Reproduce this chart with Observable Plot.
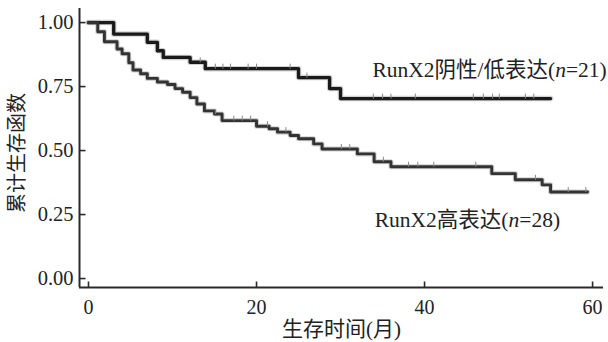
<!DOCTYPE html>
<html>
<head>
<meta charset="utf-8">
<script src="https://cdn.jsdelivr.net/npm/d3@7"></script>
<script src="https://cdn.jsdelivr.net/npm/@observablehq/plot@0.6"></script>
<style>
  html, body { margin: 0; padding: 0; background: #fff; }
  #chart svg { display: block; }
</style>
</head>
<body>
<div id="chart"></div>
<script>
// ---- data ----
const seriesNames = ["RunX2阴性/低表达(n=21)", "RunX2高表达(n=28)"];

// RunX2 negative / low expression: step times (months) and survival
const lowExprTime = [0, 3, 7, 8.2, 8.9, 12.1, 13.9, 25, 28.7, 30, 55];
const lowExprSurv = [1, 0.955, 0.923, 0.89, 0.864, 0.845, 0.82, 0.785, 0.742, 0.703, 0.703];
const lowExprCensor = [13.3, 15.1, 16, 16.9, 19, 20, 24, 26, 33.9, 35, 36, 38.9, 45.8, 47, 48.1, 48.9, 52, 53];

// RunX2 high expression
const highExprTime = [0, 1.1, 1.9, 3.4, 4.0, 4.8, 5.3, 6.2, 7.0, 8.2, 9.4, 10.3, 11.2, 12.1, 12.9, 13.8, 15.0, 15.9, 20.0, 21.5, 22.5, 24.0, 25.0, 26.8, 27.8, 32.0, 34.0, 36.0, 48.0, 50.8, 54.0, 55.0, 59.4];
const highExprSurv = [1, 0.964, 0.925, 0.897, 0.878, 0.843, 0.815, 0.8, 0.782, 0.768, 0.758, 0.742, 0.728, 0.707, 0.682, 0.655, 0.643, 0.617, 0.595, 0.585, 0.572, 0.559, 0.546, 0.526, 0.506, 0.487, 0.456, 0.437, 0.41, 0.386, 0.366, 0.338, 0.338];
const highExprCensor = [15.1, 17.3, 18.3, 19.3, 21.3, 23.5, 30.1, 31.1, 35.1, 38.1, 39.2, 41.1, 46.1, 53.2, 57.1, 59.2];

const xTicks = [0, 20, 40, 60];
const yTicks = [0, 0.25, 0.5, 0.75, 1];
const xLabel = "生存时间(月)";
const yLabel = "累计生存函数";

// ---- build tables ----
const toRows = (ts, ss, name) => ts.map((t, i) => ({t, s: ss[i], name}));
const lowRows = toRows(lowExprTime, lowExprSurv, seriesNames[0]);
const highRows = toRows(highExprTime, highExprSurv, seriesNames[1]);
const censorRows = (cs, ts, ss) => cs.map(c => ({t: c, s: ss[Math.max(0, d3.bisectRight(ts, c) - 1)]}));
const lowCens = censorRows(lowExprCensor, lowExprTime, lowExprSurv);
const highCens = censorRows(highExprCensor, highExprTime, highExprSurv);

const xMin = -1.07, xMax = 61.3, yMin = -0.035, yMax = 1.055;
const font = "'Liberation Serif', 'Times New Roman', 'Noto Sans CJK SC', serif";
const axisColor = "#2a2a2a";

const tickUp = {draw(ctx) { ctx.moveTo(0, 0); ctx.lineTo(0, -6); }};
const tickRight = {draw(ctx) { ctx.moveTo(0, 0); ctx.lineTo(6, 0); }};
const censorTick = {draw(ctx) { ctx.moveTo(0, 1); ctx.lineTo(0, -4); }};

const plot = Plot.plot({
  width: 608,
  height: 342,
  marginLeft: 79,
  marginRight: 5,
  marginTop: 8,
  marginBottom: 55,
  style: {fontFamily: font, background: "#fff", color: "#222"},
  x: {domain: [xMin, xMax]},
  y: {domain: [yMin, yMax]},
  marks: [
    // axis lines
    Plot.ruleX([xMin], {y1: yMin, y2: yMax, stroke: axisColor, strokeWidth: 2}),
    Plot.ruleY([yMin], {x1: xMin, x2: xMax, stroke: axisColor, strokeWidth: 2}),
    // inward ticks
    Plot.dot(xTicks, {x: d => d, y: () => yMin, symbol: tickUp, stroke: axisColor, strokeWidth: 1.6, r: 6, fill: "none"}),
    Plot.dot(yTicks, {x: () => xMin, y: d => d, symbol: tickRight, stroke: axisColor, strokeWidth: 1.6, r: 6, fill: "none"}),
    // tick labels
    Plot.axisX({ticks: xTicks, tickSize: 0, tickPadding: 12, fontSize: 20, label: null, tickFormat: d3.format("d")}),
    Plot.axisY({ticks: yTicks, tickSize: 0, tickPadding: 6, fontSize: 20.5, label: null, tickFormat: d3.format(".2f")}),
    // axis titles
    Plot.text([xLabel], {frameAnchor: "bottom", dy: 42, textAnchor: "middle", lineAnchor: "middle", fontSize: 21, fill: "#222"}),
    Plot.text([yLabel], {frameAnchor: "left", dx: -62, dy: 5, rotate: -90, textAnchor: "middle", lineAnchor: "middle", fontSize: 20, fill: "#222"}),
    // soft halo under lines
    Plot.line(lowRows, {x: "t", y: "s", curve: "step-after", stroke: "#999", strokeWidth: 5.5, strokeOpacity: 0.45}),
    Plot.line(highRows, {x: "t", y: "s", curve: "step-after", stroke: "#999", strokeWidth: 5, strokeOpacity: 0.45}),
    // survival curves
    Plot.line(lowRows, {x: "t", y: "s", curve: "step-after", stroke: "#1a1a1a", strokeWidth: 3.3}),
    Plot.line(highRows, {x: "t", y: "s", curve: "step-after", stroke: "#333", strokeWidth: 2.9}),
    // censor marks
    Plot.dot(lowCens, {x: "t", y: "s", symbol: censorTick, stroke: "#888", strokeWidth: 1, r: 4, fill: "none", dy: -1}),
    Plot.dot(highCens, {x: "t", y: "s", symbol: censorTick, stroke: "#888", strokeWidth: 1, r: 4, fill: "none", dy: -1}),
    // series labels
    Plot.text([seriesNames[0]], {x: 33.8, y: 0.8125, textAnchor: "start", lineAnchor: "middle", fontSize: 21.5, fill: "#222"}),
    Plot.text([seriesNames[1]], {x: 45.1, y: 0.227, textAnchor: "middle", lineAnchor: "middle", fontSize: 21.5, fill: "#222"})
  ]
});

// italicise the "n" inside the series labels
plot.querySelectorAll("text").forEach(t => {
  const s = t.textContent;
  const m = s.match(/^(.*\()n(=.*)$/);
  if (m && t.children.length === 0) {
    t.textContent = "";
    const ns = "http://www.w3.org/2000/svg";
    const a = document.createElementNS(ns, "tspan"); a.textContent = m[1];
    const b = document.createElementNS(ns, "tspan"); b.textContent = "n"; b.setAttribute("font-style", "italic");
    const c = document.createElementNS(ns, "tspan"); c.textContent = m[2];
    t.append(a, b, c);
  }
});

document.getElementById("chart").appendChild(plot);
</script>
</body>
</html>
